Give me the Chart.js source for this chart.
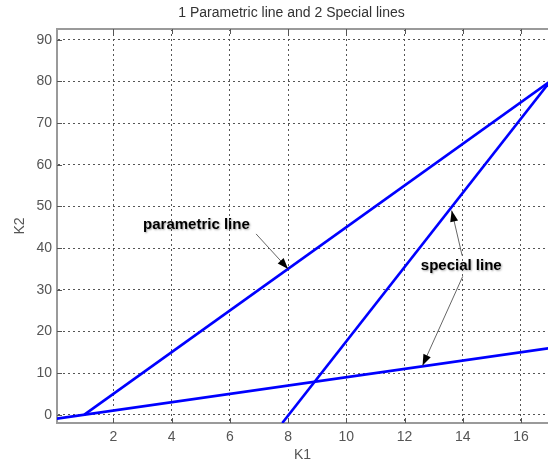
<!DOCTYPE html>
<html>
<head>
<meta charset="utf-8">
<script src="https://cdn.jsdelivr.net/npm/chart.js@4.4.1/dist/chart.umd.min.js"></script>
<style>
body{margin:0;background:#fff;}
canvas{display:block;}
</style>
</head>
<body>
<canvas id="c" width="548" height="464"></canvas>
<script>
// lines, K1 -> K2
const paramLine = [{x:1, y:0}, {x:17, y:80}];
const specialSteep = [{x:7.8, y:-2}, {x:17, y:80}];
const specialFlat = [{x:0, y:-1}, {x:17, y:16}];

const xTicks = [2, 4, 6, 8, 10, 12, 14, 16];
const yTicks = [0, 10, 20, 30, 40, 50, 60, 70, 80, 90];

const titleText = '1 Parametric line and 2 Special lines';

// labels with arrows (data units)
const notes = [
  {text:'parametric line', at:[4.85, 45.6], arrows:[[[6.9, 43.4], [8, 35]]]},
  {text:'special line', at:[13.95, 35.7], arrows:[[[13.98, 38.2], [13.62, 49]], [[14.0, 33.2], [12.62, 11.8]]]}
];

const FONT = "Arial, 'Liberation Sans', sans-serif";

function arrow(ctx, x1, y1, x2, y2){
  ctx.strokeStyle = '#666';
  ctx.lineWidth = 1;
  ctx.beginPath();
  ctx.moveTo(x1, y1);
  ctx.lineTo(x2, y2);
  ctx.stroke();
  const ang = Math.atan2(y2 - y1, x2 - x1);
  const L = 11, W = 4;
  ctx.fillStyle = '#000';
  ctx.beginPath();
  ctx.moveTo(x2, y2);
  ctx.lineTo(x2 - L*Math.cos(ang) + W*Math.sin(ang), y2 - L*Math.sin(ang) - W*Math.cos(ang));
  ctx.lineTo(x2 - L*Math.cos(ang) - W*Math.sin(ang), y2 - L*Math.sin(ang) + W*Math.cos(ang));
  ctx.closePath();
  ctx.fill();
}

const extras = {
  id: 'extras',
  afterDraw(chart){
    const {ctx, chartArea: a, scales: {x, y}} = chart;
    ctx.save();
    // top box edge
    ctx.strokeStyle = '#9a9a9a';
    ctx.lineWidth = 2;
    ctx.beginPath();
    ctx.moveTo(a.left, a.top);
    ctx.lineTo(a.right, a.top);
    ctx.stroke();

    // inward ticks
    ctx.strokeStyle = '#555';
    ctx.lineWidth = 1;
    ctx.beginPath();
    xTicks.forEach(v => {
      const px = Math.round(x.getPixelForValue(v)) + 0.5;
      ctx.moveTo(px, a.bottom); ctx.lineTo(px, a.bottom - 5);
      ctx.moveTo(px, a.top); ctx.lineTo(px, a.top + 5);
    });
    yTicks.forEach(v => {
      const py = Math.round(y.getPixelForValue(v)) + 0.5;
      ctx.moveTo(a.left, py); ctx.lineTo(a.left + 5, py);
    });
    ctx.stroke();

    // title
    ctx.fillStyle = '#333';
    ctx.font = '14px ' + FONT;
    ctx.textAlign = 'center';
    ctx.textBaseline = 'middle';
    ctx.fillText(titleText, (a.left + a.right) / 2 - 11, 13);

    // notes
    notes.forEach(n => {
      n.arrows.forEach(ar => {
        arrow(ctx, x.getPixelForValue(ar[0][0]), y.getPixelForValue(ar[0][1]),
                   x.getPixelForValue(ar[1][0]), y.getPixelForValue(ar[1][1]));
      });
      ctx.save();
      ctx.font = 'bold 15px ' + FONT;
      ctx.textAlign = 'center';
      ctx.textBaseline = 'middle';
      ctx.shadowColor = 'rgba(0,0,0,0.35)';
      ctx.shadowBlur = 2;
      ctx.shadowOffsetX = 1;
      ctx.shadowOffsetY = 1;
      ctx.fillStyle = '#000';
      ctx.fillText(n.text, x.getPixelForValue(n.at[0]), y.getPixelForValue(n.at[1]));
      ctx.restore();
    });
    ctx.restore();
  }
};

function lineSet(d){
  return {data: d, showLine: true, borderColor: '#0000ff', borderWidth: 2.6,
          pointRadius: 0, fill: false, tension: 0};
}

new Chart(document.getElementById('c'), {
  type: 'scatter',
  data: {datasets: [lineSet(paramLine), lineSet(specialSteep), lineSet(specialFlat)]},
  options: {
    responsive: false,
    animation: false,
    devicePixelRatio: 1,
    layout: {padding: {top: 29, right: 0, left: 0, bottom: 0}},
    plugins: {legend: {display: false}, tooltip: {enabled: false}},
    scales: {
      x: {
        type: 'linear', min: 0.06, max: 16.93,
        afterBuildTicks: s => { s.ticks = xTicks.map(v => ({value: v})); },
        afterFit: s => { s.height = 41; },
        grid: {color: '#555', lineWidth: 1, drawTicks: false},
        border: {color: '#9a9a9a', width: 2, dash: [2, 3]},
        ticks: {color: '#555', padding: 6, font: {size: 14, family: FONT}},
        title: {display: true, text: 'K1', color: '#555', padding: {top: 0, bottom: 0}, font: {size: 14, family: FONT}}
      },
      y: {
        type: 'linear', min: -2, max: 92.6,
        afterBuildTicks: s => { s.ticks = yTicks.map(v => ({value: v})); },
        afterFit: s => { s.width = 57; },
        grid: {color: '#555', lineWidth: 1, drawTicks: false},
        border: {color: '#9a9a9a', width: 2, dash: [2, 3]},
        ticks: {color: '#555', padding: 5, font: {size: 14, family: FONT}},
        title: {display: true, text: 'K2', color: '#555', padding: {top: 12, bottom: 0}, font: {size: 14, family: FONT}}
      }
    }
  },
  plugins: [extras]
});
</script>
</body>
</html>
